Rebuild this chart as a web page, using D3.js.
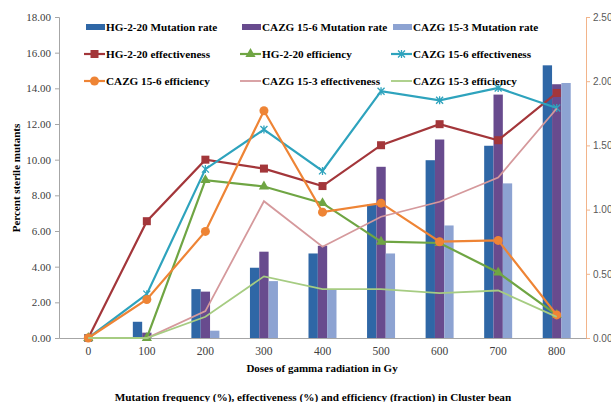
<html>
<head>
<script src="https://d3js.org/d3.v7.min.js"></script>
<style>
  body { margin: 0; background: #fff; }
  .lbl { font-family: "Liberation Serif", "Times New Roman", serif; font-weight: 700; fill: #000; }
  .axis text { font-family: "Liberation Serif", "Times New Roman", serif; font-size: 11px; fill: #404040; }
  .raxis text { font-family: "Liberation Sans", Arial, sans-serif; font-size: 10px; fill: #595959; }
</style>
</head>
<body>
<div class="chart"></div>
<script>
// doses (Gy)
var doses = ["0", "100", "200", "300", "400", "500", "600", "700", "800"];

// mutation rate bars (%), left axis
var hgMut   = [0, 0.91, 2.74, 3.94, 4.74, 7.49, 9.97, 10.78, 15.29];
var c156Mut = [0, 0.30, 2.60, 4.84, 5.17, 9.60, 11.13, 13.65, 14.23];
var c153Mut = [0, 0.00, 0.41, 3.19, 2.74, 4.74, 6.31, 8.67, 14.30];

// effectiveness (%), left axis
var hgEff   = [0, 6.55, 10.00, 9.50, 8.52, 10.81, 11.99, 11.09, 13.74];
var c156Eff = [0, 2.46, 9.47, 11.69, 9.37, 13.84, 13.33, 14.02, 12.90];
var c153Eff = [0, 0.00, 1.51, 7.67, 5.12, 6.80, 7.64, 9.00, 12.87];

// efficiency (fraction), right axis
var hgEffi   = [0, 0.00, 1.23, 1.18, 1.05, 0.75, 0.74, 0.51, 0.18];
var c156Effi = [0, 0.30, 0.83, 1.77, 0.98, 1.05, 0.75, 0.76, 0.18];
var c153Effi = [0, 0.00, 0.165, 0.48, 0.38, 0.38, 0.35, 0.37, 0.165];

var leftTicks  = [0, 2, 4, 6, 8, 10, 12, 14, 16, 18];
var rightTicks = [0, 0.5, 1.0, 1.5, 2.0, 2.5];

var w = 611, h = 402;
var mLeft = 59, mRight = 586, mTop = 17, mBottom = 338;

var svg = d3.select(".chart").append("svg").attr("width", w).attr("height", h);

var x = d3.scaleBand().domain(doses).range([mLeft, mRight]);
var xb = d3.scaleBand().domain([0, 1, 2]).range([0, 28]);
var yL = d3.scaleLinear().domain([0, 18]).range([mBottom, mTop]);
var yR = d3.scaleLinear().domain([0, 2.5]).range([mBottom, mTop]);

// axes
var gl = svg.append("g").attr("class", "axis").attr("transform", "translate(" + mLeft + ",0)")
  .call(d3.axisLeft(yL).tickValues(leftTicks).tickFormat(d3.format(".2f")).tickSize(4).tickPadding(4));
gl.selectAll("line,path").attr("stroke", "#a6a6a6");

var gr = svg.append("g").attr("class", "raxis").attr("transform", "translate(" + mRight + ",0)")
  .call(d3.axisRight(yR).tickValues(rightTicks).tickFormat(d3.format(".2f")).tickSize(4).tickPadding(3));
gr.selectAll("line,path").attr("stroke", "#f2b48a");

var gx = svg.append("g").attr("class", "axis").attr("transform", "translate(0," + mBottom + ")")
  .call(d3.axisBottom(x).tickSize(0).tickPadding(9));
gx.select("path").attr("stroke", "#a6a6a6");
gx.selectAll("text").style("font-size", "11.5px");

// bars
var bars = [
  { name: "HG-2-20 Mutation rate", vals: hgMut, color: "#2f67a6" },
  { name: "CAZG 15-6 Mutation rate", vals: c156Mut, color: "#684b8e" },
  { name: "CAZG 15-3 Mutation rate", vals: c153Mut, color: "#8da3d2" }
];
bars.forEach(function (s, i) {
  svg.append("g").selectAll("rect").data(s.vals).enter().append("rect")
    .attr("x", function (d, j) { return x(doses[j]) + x.bandwidth() / 2 - 14 + xb(i); })
    .attr("width", xb.bandwidth())
    .attr("y", function (d) { return yL(d); })
    .attr("height", function (d) { return mBottom - yL(d); })
    .attr("fill", s.color);
});

// lines
var lines = [
  { name: "HG-2-20 effectiveness", vals: hgEff, y: yL, color: "#a3363a", mark: "square", sw: 2.2 },
  { name: "HG-2-20 efficiency", vals: hgEffi, y: yR, color: "#6fa543", mark: "triangle", sw: 2.2 },
  { name: "CAZG 15-6 effectiveness", vals: c156Eff, y: yL, color: "#2ea3bd", mark: "cross", sw: 2.2 },
  { name: "CAZG 15-6 efficiency", vals: c156Effi, y: yR, color: "#ee8435", mark: "circle", sw: 2.2 },
  { name: "CAZG 15-3 effectiveness", vals: c153Eff, y: yL, color: "#d5999c", mark: "none", sw: 1.8 },
  { name: "CAZG 15-3 efficiency", vals: c153Effi, y: yR, color: "#a6cc82", mark: "none", sw: 1.8 }
];

function cx(j) { return x(doses[j]) + x.bandwidth() / 2; }

function drawMark(g, type, color, px, py) {
  if (type === "square") {
    g.append("rect").attr("x", px - 4).attr("y", py - 4).attr("width", 8).attr("height", 8).attr("fill", color);
  } else if (type === "triangle") {
    g.append("path").attr("d", d3.symbol().type(d3.symbolTriangle).size(45)()).attr("transform", "translate(" + px + "," + py + ")").attr("fill", color);
  } else if (type === "circle") {
    g.append("circle").attr("cx", px).attr("cy", py).attr("r", 4.5).attr("fill", color);
  } else if (type === "cross") {
    g.append("path").attr("d", "M-3.5,-3.5L3.5,3.5M-3.5,3.5L3.5,-3.5M0,-4L0,4")
      .attr("transform", "translate(" + px + "," + py + ")").attr("stroke", color).attr("stroke-width", 1.3).attr("fill", "none");
  }
}

lines.forEach(function (s) {
  var line = d3.line().x(function (d, j) { return cx(j); }).y(function (d) { return s.y(d); });
  var g = svg.append("g");
  g.append("path").attr("d", line(s.vals)).attr("fill", "none").attr("stroke", s.color).attr("stroke-width", s.sw);
  s.vals.forEach(function (d, j) { drawMark(g, s.mark, s.color, cx(j), s.y(d)); });
});

// legend
var legendItems = [
  { s: bars[0], type: "bar" }, { s: bars[1], type: "bar" }, { s: bars[2], type: "bar" },
  { s: lines[0], type: "line" }, { s: lines[1], type: "line" }, { s: lines[2], type: "line" },
  { s: lines[3], type: "line" }, { s: lines[4], type: "line" }, { s: lines[5], type: "line" }
];
var colX = [84, 240, 391];
var rowY = [27, 54, 81];
legendItems.forEach(function (it, k) {
  var lx = colX[k % 3], ly = rowY[Math.floor(k / 3)];
  var g = svg.append("g");
  if (it.type === "bar") {
    g.append("rect").attr("x", lx + 2).attr("y", ly - 3).attr("width", 19).attr("height", 6).attr("fill", it.s.color);
  } else {
    g.append("line").attr("x1", lx).attr("x2", lx + 21).attr("y1", ly).attr("y2", ly)
      .attr("stroke", it.s.color).attr("stroke-width", it.s.sw);
    drawMark(g, it.s.mark, it.s.color, lx + 10.5, ly);
  }
  g.append("text").attr("class", "lbl").attr("x", lx + 22).attr("y", ly).attr("dy", "0.35em")
    .style("font-size", "11.2px").text(it.s.name);
});

// titles
svg.append("text").attr("class", "lbl").attr("transform", "translate(16,178) rotate(-90)")
  .attr("text-anchor", "middle").attr("dy", "0.35em").style("font-size", "11px").text("Percent sterile mutants");
svg.append("text").attr("class", "lbl").attr("x", 322).attr("y", 368).attr("dy", "0.35em")
  .attr("text-anchor", "middle").style("font-size", "11px").text("Doses of gamma radiation in Gy");
svg.append("text").attr("class", "lbl").attr("x", 313).attr("y", 397).attr("dy", "0.35em")
  .attr("text-anchor", "middle").style("font-size", "11.2px").text("Mutation frequency (%), effectiveness (%) and efficiency (fraction) in Cluster bean");
</script>
</body>
</html>
